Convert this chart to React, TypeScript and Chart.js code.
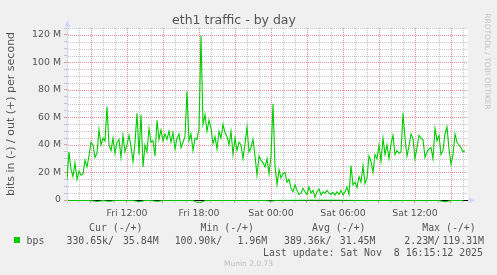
import React, { useEffect, useRef } from 'react';
import { Chart, registerables } from 'chart.js';

Chart.register(...registerables);

// ---- data -------------------------------------------------------------
// time origin: Fri 07:00 (left edge of the plot), hours on the x axis
const OUT_STEP_MIN = 10; // one out sample every 10 minutes
const IN_STEP_MIN = 30; // one in sample every 30 minutes
const X_MAX_HOURS = 33.4167;

// out traffic, Mbit/s
const outMbps: number[] = [
  15, 35, 22, 17, 27, 15, 21, 18, 19, 29,
  24, 32, 42, 40, 31, 34, 51, 40, 45, 43,
  68, 40, 36, 45, 34, 42, 44, 31, 47, 35,
  40, 47, 39, 28, 42, 63, 33, 62, 24, 40,
  35, 52, 42, 43, 32, 58, 44, 51, 43, 48,
  44, 50, 42, 49, 37, 45, 48, 38, 42, 46,
  79, 43, 48, 36, 45, 44, 52, 119.31, 55, 62,
  50, 58, 52, 41, 46, 37, 50, 45, 55, 49,
  46, 40, 50, 33, 45, 36, 42, 40, 30, 41,
  53, 35, 38, 44, 32, 18, 32, 29, 27, 24,
  30, 19, 32, 70, 25, 11, 22, 16, 19, 20,
  13, 15, 8.5, 6, 11, 7, 4, 5, 8.5, 6,
  4, 9.5, 5, 7, 1.96, 6, 8, 3.6, 6, 5,
  7, 5, 4, 5.5, 3.6, 6, 4, 7, 3.6, 6,
  9.5, 4, 25, 11, 13, 9, 17, 13, 25, 12,
  16, 32, 28, 20, 33, 30, 40, 28, 45, 33,
  40, 30, 41, 47, 33, 36, 34, 35, 63, 45,
  32, 39, 48, 45, 30, 38, 47, 45, 44, 31,
  35, 37, 38, 30, 52, 43, 47, 33, 36, 48,
  53, 37, 26, 33, 48, 42, 40, 38, 35, 35.84,
];

// in traffic, Mbit/s (drawn negative)
const inMbps: number[] = [
  0.33, 0.35, 0.38, 0.36, 0.4, 1.1, 0.37, 0.9, 0.4, 0.35,
  0.42, 0.38, 1.2, 0.41, 0.36, 1.0, 0.39, 0.44, 0.37, 0.4,
  0.43, 0.38, 2.23, 0.45, 0.39, 0.42, 0.37, 0.4, 0.36, 0.41,
  0.38, 0.35, 0.33, 0.36, 0.8, 0.3, 0.28, 0.25, 0.22, 0.2,
  0.18, 0.15, 0.12, 0.1009, 0.13, 0.16, 0.2, 0.25, 0.3, 0.33,
  0.36, 0.4, 0.42, 0.38, 0.41, 0.44, 0.39, 0.42, 0.37, 0.4,
  0.43, 0.38, 0.41, 1.3, 0.36, 0.39, 0.3307,
];

const xTickHours: number[] = [5, 11, 17, 23, 29];
const xTickLabels: string[] = ['Fri 12:00', 'Fri 18:00', 'Sat 00:00', 'Sat 06:00', 'Sat 12:00'];

const Y_MAX = 125;
const Y_MINOR = 5;
const Y_MAJOR = 20;
const X_MAJOR_EVERY = 3; // hours
const X_MAJOR_OFFSET = 2; // Fri 09:00 is the first major line

const legendHeaders: string[] = ['Cur (-/+)', 'Min (-/+)', 'Avg (-/+)', 'Max (-/+)'];
const legendIn: string[] = ['330.65k/', '100.90k/', '389.36k/', '2.23M/'];
const legendOut: string[] = ['35.84M', '1.96M', '31.45M', '119.31M'];
const seriesName = 'bps';
const titleText = 'eth1 traffic - by day';
const yTitle = 'bits in (-) / out (+) per second';
const lastUpdate = 'Last update: Sat Nov  8 16:15:12 2025';
const versionText = 'Munin 2.0.73';
const watermark = 'RRDTOOL / TOBI OETIKER';

// ---- styles -----------------------------------------------------------
const GREEN = '#00cc00';
const RED_GRID = '#ec8e8e';
const GRAY_GRID = '#c4c4c4';
const AXIS = '#cfd6f8';
const FONT_COLOR = '#555555';
const SANS = "'DejaVu Sans', sans-serif";
const MONO = "'DejaVu Sans Mono', monospace";

const isXMajor = (v: number) => v % X_MAJOR_EVERY === X_MAJOR_OFFSET;
const isYMajor = (v: number) => v % Y_MAJOR === 0;

export default function App() {
  const ref = useRef<HTMLCanvasElement>(null);

  useEffect(() => {
    const canvas = ref.current!;
    const outData = outMbps.map((v, i) => ({ x: (i * OUT_STEP_MIN) / 60, y: v }));
    const inData = inMbps.map((v, i) => ({ x: (i * IN_STEP_MIN) / 60, y: -v }));

    const hourTicks: number[] = [];
    for (let h = 0; h <= Math.floor(X_MAX_HOURS); h++) hourTicks.push(h);
    const yTicks: number[] = [];
    for (let v = 0; v <= Y_MAX; v += Y_MINOR) yTicks.push(v);

    const munin = {
      id: 'munin',
      beforeDraw(chart: any) {
        const { ctx, chartArea: a } = chart;
        ctx.save();
        ctx.fillStyle = '#f0f0f0';
        ctx.fillRect(0, 0, chart.width, chart.height);
        ctx.fillStyle = '#ffffff';
        ctx.fillRect(a.left, a.top, a.right - a.left, a.bottom - a.top);
        ctx.restore();
      },
      beforeDatasetsDraw(chart: any) {
        // dotted grid (minor grey first, major red on top), taken from the scales' ticks
        const { ctx, chartArea: a } = chart;
        const xs = chart.scales.x;
        const ys = chart.scales.y;
        ctx.save();
        ctx.lineWidth = 1;
        ctx.setLineDash([1, 1]);
        for (const pass of [false, true]) {
          ctx.strokeStyle = pass ? RED_GRID : GRAY_GRID;
          ctx.beginPath();
          for (const t of xs.ticks) {
            if (t.value <= 0 || isXMajor(t.value) !== pass) continue;
            const px = Math.round(xs.getPixelForValue(t.value)) + 0.5;
            ctx.moveTo(px, a.top);
            ctx.lineTo(px, a.bottom);
          }
          for (const t of ys.ticks) {
            if (t.value <= 0 || isYMajor(t.value) !== pass) continue;
            const py = Math.round(ys.getPixelForValue(t.value)) + 0.5;
            ctx.moveTo(a.left + 1, py);
            ctx.lineTo(a.right, py);
          }
          ctx.stroke();
        }
        ctx.restore();
      },
      afterDraw(chart: any) {
        const { ctx, chartArea: a } = chart;
        ctx.save();
        // axis extensions and arrows
        ctx.strokeStyle = AXIS;
        ctx.fillStyle = AXIS;
        ctx.lineWidth = 1;
        const ax = Math.round(a.left) + 0.5;
        const ay = Math.round(a.bottom) + 0.5;
        ctx.beginPath();
        ctx.moveTo(ax, a.top);
        ctx.lineTo(ax, a.top - 4);
        ctx.moveTo(ax, a.bottom);
        ctx.lineTo(ax, a.bottom + 3);
        ctx.moveTo(a.right, ay);
        ctx.lineTo(a.right + 2, ay);
        ctx.stroke();
        ctx.beginPath();
        ctx.moveTo(ax, a.top - 7.5);
        ctx.lineTo(ax - 3, a.top - 1.5);
        ctx.lineTo(ax + 3, a.top - 1.5);
        ctx.closePath();
        ctx.fill();
        ctx.beginPath();
        ctx.moveTo(a.right + 7, ay);
        ctx.lineTo(a.right + 1, ay - 3);
        ctx.lineTo(a.right + 1, ay + 3);
        ctx.closePath();
        ctx.fill();

        // legend
        ctx.fillStyle = GREEN;
        ctx.fillRect(14, 237, 6, 6);
        ctx.fillStyle = FONT_COLOR;
        ctx.font = `9.9px ${MONO}`;
        ctx.textBaseline = 'alphabetic';
        ctx.textAlign = 'left';
        ctx.fillText(seriesName, 26.5, 243.5);
        const headerX = [89, 200.5, 312, 422.2];
        legendHeaders.forEach((t, i) => ctx.fillText(t, headerX[i], 231));
        ctx.textAlign = 'right';
        const inX = [114, 222.2, 331.5, 440];
        const outX = [158.6, 267.2, 375.5, 484];
        legendIn.forEach((t, i) => ctx.fillText(t, inX[i], 243.5));
        legendOut.forEach((t, i) => ctx.fillText(t, outX[i], 243.5));
        ctx.fillText(lastUpdate, 483, 255.5);

        ctx.textAlign = 'center';
        ctx.fillStyle = '#bdbdbd';
        ctx.font = `7.5px ${SANS}`;
        ctx.fillText(versionText, 248.5, 266);

        ctx.fillStyle = '#c4c4c4';
        ctx.translate(486.5, 61.5);
        ctx.rotate(Math.PI / 2);
        ctx.textBaseline = 'middle';
        ctx.fillText(watermark, 0, 0);
        ctx.restore();
      },
    };

    const chart = new Chart(canvas, {
      type: 'line',
      data: {
        datasets: [
          {
            label: 'in',
            data: inData,
            borderColor: GREEN,
            borderWidth: 1,
            pointRadius: 0,
            tension: 0,
            fill: false,
            clip: { left: 0, top: 0, right: 0, bottom: 3 } as any,
          },
          {
            label: seriesName,
            data: outData,
            borderColor: GREEN,
            borderWidth: 1.1,
            pointRadius: 0,
            tension: 0,
            fill: false,
          },
        ],
      },
      options: {
        responsive: false,
        animation: false,
        events: [],
        parsing: false as any,
        layout: { padding: { left: 0, right: 29, top: 0, bottom: 55 } },
        plugins: {
          legend: { display: false },
          tooltip: { enabled: false },
          title: {
            display: true,
            text: titleText,
            color: FONT_COLOR,
            font: { family: SANS, size: 12.5, weight: 'normal' as any },
            padding: { top: 13, bottom: 0 },
          },
        },
        scales: {
          x: {
            type: 'linear',
            min: 0,
            max: X_MAX_HOURS,
            afterFit: (s: any) => {
              s.height = 20;
            },
            afterBuildTicks: (s: any) => {
              s.ticks = hourTicks.map((v) => ({ value: v }));
            },
            ticks: {
              autoSkip: false,
              maxRotation: 0,
              padding: 5,
              color: FONT_COLOR,
              font: { family: SANS, size: 9.4 },
              callback: (v: any) => {
                const i = xTickHours.indexOf(Number(v));
                return i >= 0 ? xTickLabels[i] : '';
              },
            },
            grid: {
              drawOnChartArea: false,
              tickColor: (c: any) => (c.tick && isXMajor(c.tick.value) ? RED_GRID : GRAY_GRID),
              tickLength: 3,
              lineWidth: 1,
            },
            border: { color: '#000000', width: 1 },
          },
          y: {
            type: 'linear',
            min: 0,
            max: Y_MAX,
            afterFit: (s: any) => {
              s.width = 67;
            },
            afterBuildTicks: (s: any) => {
              s.ticks = yTicks.map((v) => ({ value: v }));
            },
            ticks: {
              autoSkip: false,
              padding: 3,
              color: FONT_COLOR,
              font: { family: SANS, size: 9.4 },
              callback: (v: any) => {
                const n = Number(v);
                if (!isYMajor(n)) return '';
                return n === 0 ? '0' : `${n} M`;
              },
            },
            grid: {
              drawOnChartArea: false,
              tickColor: (c: any) => (c.tick && isYMajor(c.tick.value) ? RED_GRID : GRAY_GRID),
              tickLength: 3,
              lineWidth: 1,
            },
            border: { color: AXIS, width: 1 },
            title: {
              display: true,
              text: yTitle,
              color: FONT_COLOR,
              font: { family: SANS, size: 11 },
              padding: { top: 5, bottom: 0 },
            },
          },
        },
      },
      plugins: [munin],
    });

    return () => chart.destroy();
  }, []);

  return (
    <div style={{ position: 'fixed', left: 0, top: 0, width: 497, height: 275, background: '#f0f0f0' }}>
      <canvas ref={ref} width={497} height={275} style={{ display: 'block', width: 497, height: 275 }} />
    </div>
  );
}
